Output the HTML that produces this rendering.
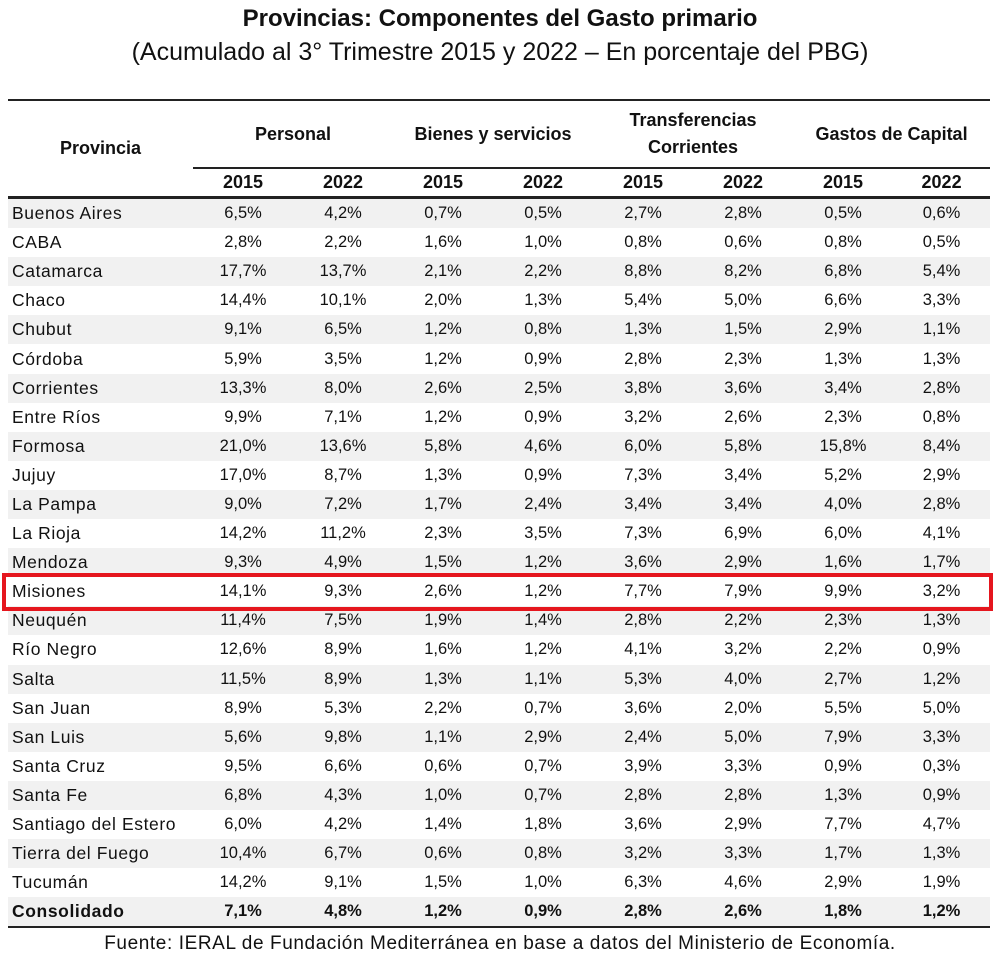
<!DOCTYPE html>
<html><head><meta charset="utf-8"><style>
body{margin:0;width:1000px;height:965px;background:#fff;font-family:"Liberation Sans",sans-serif;color:#111;position:relative;overflow:hidden}
.t1{position:absolute;top:5px;left:0;width:1000px;text-align:center;font-weight:bold;font-size:24px}
.t2{position:absolute;top:38px;left:0;width:1000px;text-align:center;font-size:25px}
table{position:absolute;top:99px;left:8px;border-collapse:collapse;table-layout:fixed;width:982px;font-size:16.5px}
td,th{padding:0;text-align:center;white-space:nowrap}
th{font-weight:bold;font-size:18px}
tr.h1 th{height:66px;border-top:2.5px solid #222}
tr.h2 th{height:27px;border-top:2px solid #222;border-bottom:3px solid #222}
tr.r td{height:29.1px}
tr.r td:first-child{text-align:left;padding-left:4px;font-size:17.5px;letter-spacing:0.6px}
tr.r:nth-child(odd) td{background:#f1f1f1}
tr.last td{font-weight:bold;border-bottom:2.5px solid #222}
.red{position:absolute;left:2px;top:573px;width:983px;height:30px;border:4px solid #e5161e}
.f{position:absolute;top:933px;left:0;width:1000px;text-align:center;font-size:19px;letter-spacing:0.6px}
</style></head><body>
<div class="t1">Provincias: Componentes del Gasto primario</div>
<div class="t2">(Acumulado al 3° Trimestre 2015 y 2022 – En porcentaje del PBG)</div>
<table>
<colgroup><col style="width:185px"><col style="width:100px"><col style="width:100px"><col style="width:100px"><col style="width:100px"><col style="width:100px"><col style="width:100px"><col style="width:100px"><col style="width:97px"></colgroup>
<thead>
<tr class="h1"><th rowspan="2" style="border-bottom:3px solid #222">Provincia</th><th colspan="2">Personal</th><th colspan="2">Bienes y servicios</th><th colspan="2" style="line-height:27px">Transferencias<br>Corrientes</th><th colspan="2">Gastos de Capital</th></tr>
<tr class="h2"><th>2015</th><th>2022</th><th>2015</th><th>2022</th><th>2015</th><th>2022</th><th>2015</th><th>2022</th></tr>
</thead>
<tbody>
<tr class="r"><td>Buenos Aires</td><td>6,5%</td><td>4,2%</td><td>0,7%</td><td>0,5%</td><td>2,7%</td><td>2,8%</td><td>0,5%</td><td>0,6%</td></tr>
<tr class="r"><td>CABA</td><td>2,8%</td><td>2,2%</td><td>1,6%</td><td>1,0%</td><td>0,8%</td><td>0,6%</td><td>0,8%</td><td>0,5%</td></tr>
<tr class="r"><td>Catamarca</td><td>17,7%</td><td>13,7%</td><td>2,1%</td><td>2,2%</td><td>8,8%</td><td>8,2%</td><td>6,8%</td><td>5,4%</td></tr>
<tr class="r"><td>Chaco</td><td>14,4%</td><td>10,1%</td><td>2,0%</td><td>1,3%</td><td>5,4%</td><td>5,0%</td><td>6,6%</td><td>3,3%</td></tr>
<tr class="r"><td>Chubut</td><td>9,1%</td><td>6,5%</td><td>1,2%</td><td>0,8%</td><td>1,3%</td><td>1,5%</td><td>2,9%</td><td>1,1%</td></tr>
<tr class="r"><td>Córdoba</td><td>5,9%</td><td>3,5%</td><td>1,2%</td><td>0,9%</td><td>2,8%</td><td>2,3%</td><td>1,3%</td><td>1,3%</td></tr>
<tr class="r"><td>Corrientes</td><td>13,3%</td><td>8,0%</td><td>2,6%</td><td>2,5%</td><td>3,8%</td><td>3,6%</td><td>3,4%</td><td>2,8%</td></tr>
<tr class="r"><td>Entre Ríos</td><td>9,9%</td><td>7,1%</td><td>1,2%</td><td>0,9%</td><td>3,2%</td><td>2,6%</td><td>2,3%</td><td>0,8%</td></tr>
<tr class="r"><td>Formosa</td><td>21,0%</td><td>13,6%</td><td>5,8%</td><td>4,6%</td><td>6,0%</td><td>5,8%</td><td>15,8%</td><td>8,4%</td></tr>
<tr class="r"><td>Jujuy</td><td>17,0%</td><td>8,7%</td><td>1,3%</td><td>0,9%</td><td>7,3%</td><td>3,4%</td><td>5,2%</td><td>2,9%</td></tr>
<tr class="r"><td>La Pampa</td><td>9,0%</td><td>7,2%</td><td>1,7%</td><td>2,4%</td><td>3,4%</td><td>3,4%</td><td>4,0%</td><td>2,8%</td></tr>
<tr class="r"><td>La Rioja</td><td>14,2%</td><td>11,2%</td><td>2,3%</td><td>3,5%</td><td>7,3%</td><td>6,9%</td><td>6,0%</td><td>4,1%</td></tr>
<tr class="r"><td>Mendoza</td><td>9,3%</td><td>4,9%</td><td>1,5%</td><td>1,2%</td><td>3,6%</td><td>2,9%</td><td>1,6%</td><td>1,7%</td></tr>
<tr class="r"><td>Misiones</td><td>14,1%</td><td>9,3%</td><td>2,6%</td><td>1,2%</td><td>7,7%</td><td>7,9%</td><td>9,9%</td><td>3,2%</td></tr>
<tr class="r"><td>Neuquén</td><td>11,4%</td><td>7,5%</td><td>1,9%</td><td>1,4%</td><td>2,8%</td><td>2,2%</td><td>2,3%</td><td>1,3%</td></tr>
<tr class="r"><td>Río Negro</td><td>12,6%</td><td>8,9%</td><td>1,6%</td><td>1,2%</td><td>4,1%</td><td>3,2%</td><td>2,2%</td><td>0,9%</td></tr>
<tr class="r"><td>Salta</td><td>11,5%</td><td>8,9%</td><td>1,3%</td><td>1,1%</td><td>5,3%</td><td>4,0%</td><td>2,7%</td><td>1,2%</td></tr>
<tr class="r"><td>San Juan</td><td>8,9%</td><td>5,3%</td><td>2,2%</td><td>0,7%</td><td>3,6%</td><td>2,0%</td><td>5,5%</td><td>5,0%</td></tr>
<tr class="r"><td>San Luis</td><td>5,6%</td><td>9,8%</td><td>1,1%</td><td>2,9%</td><td>2,4%</td><td>5,0%</td><td>7,9%</td><td>3,3%</td></tr>
<tr class="r"><td>Santa Cruz</td><td>9,5%</td><td>6,6%</td><td>0,6%</td><td>0,7%</td><td>3,9%</td><td>3,3%</td><td>0,9%</td><td>0,3%</td></tr>
<tr class="r"><td>Santa Fe</td><td>6,8%</td><td>4,3%</td><td>1,0%</td><td>0,7%</td><td>2,8%</td><td>2,8%</td><td>1,3%</td><td>0,9%</td></tr>
<tr class="r"><td>Santiago del Estero</td><td>6,0%</td><td>4,2%</td><td>1,4%</td><td>1,8%</td><td>3,6%</td><td>2,9%</td><td>7,7%</td><td>4,7%</td></tr>
<tr class="r"><td>Tierra del Fuego</td><td>10,4%</td><td>6,7%</td><td>0,6%</td><td>0,8%</td><td>3,2%</td><td>3,3%</td><td>1,7%</td><td>1,3%</td></tr>
<tr class="r"><td>Tucumán</td><td>14,2%</td><td>9,1%</td><td>1,5%</td><td>1,0%</td><td>6,3%</td><td>4,6%</td><td>2,9%</td><td>1,9%</td></tr>
<tr class="r last"><td>Consolidado</td><td>7,1%</td><td>4,8%</td><td>1,2%</td><td>0,9%</td><td>2,8%</td><td>2,6%</td><td>1,8%</td><td>1,2%</td></tr>
</tbody></table>
<div class="red"></div>
<div class="f">Fuente: IERAL de Fundación Mediterránea en base a datos del Ministerio de Economía.</div>
</body></html>
